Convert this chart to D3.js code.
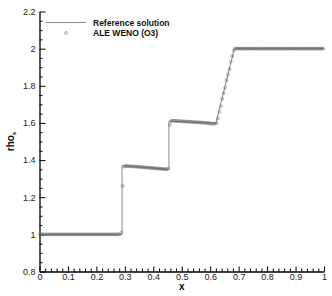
<!DOCTYPE html>
<html>
<head>
<meta charset="utf-8">
<script src="https://cdn.jsdelivr.net/npm/d3@7/dist/d3.min.js"></script>
<style>
  html, body { margin: 0; padding: 0; background: #fff; }
  svg { display: block; font-family: "Liberation Sans", Arial, Helvetica, sans-serif; }
</style>
</head>
<body>
<svg id="chart" width="332" height="296"></svg>
<script>
// Reference solution, as the breakpoints of a polyline
const refX = [0, 0.29, 0.29, 0.455, 0.455, 0.62, 0.685, 1];
const refY = [1, 1, 1.37, 1.35, 1.61, 1.598, 2.0, 2.0];

// ALE WENO (O3), one value per cell, 200 cells on [0, 1]
const cellStart = 0.0025;
const cellWidth = 0.005;
const wenoY = [
  1, 1, 1, 1, 1, 1, 1, 1, 1, 1,
  1, 1, 1, 1, 1, 1, 1, 1, 1, 1,
  1, 1, 1, 1, 1, 1, 1, 1, 1, 1,
  1, 1, 1, 1, 1, 1, 1, 1, 1, 1,
  1, 1, 1, 1, 1, 1, 1, 1, 1, 1,
  1, 1, 1, 1, 1, 1, 1, 1.01, 1.26, 1.365,
  1.368, 1.368, 1.367, 1.367, 1.366, 1.366, 1.365, 1.365, 1.364, 1.364,
  1.363, 1.362, 1.362, 1.361, 1.36, 1.36, 1.359, 1.358, 1.358, 1.357,
  1.356, 1.356, 1.355, 1.354, 1.354, 1.353, 1.352, 1.352, 1.351, 1.35,
  1.355, 1.59, 1.61, 1.612, 1.612, 1.611, 1.611, 1.61, 1.61, 1.609,
  1.609, 1.608, 1.608, 1.607, 1.607, 1.606, 1.606, 1.605, 1.605, 1.604,
  1.604, 1.603, 1.603, 1.602, 1.602, 1.601, 1.6, 1.6, 1.599, 1.598,
  1.597, 1.596, 1.596, 1.596, 1.6, 1.625, 1.66, 1.69, 1.73, 1.76,
  1.79, 1.83, 1.86, 1.89, 1.93, 1.96, 1.99, 2.0, 2.0, 2.0,
  2, 2, 2, 2, 2, 2, 2, 2, 2, 2,
  2, 2, 2, 2, 2, 2, 2, 2, 2, 2,
  2, 2, 2, 2, 2, 2, 2, 2, 2, 2,
  2, 2, 2, 2, 2, 2, 2, 2, 2, 2,
  2, 2, 2, 2, 2, 2, 2, 2, 2, 2,
  2, 2, 2, 2, 2, 2, 2, 2, 2, 2
];

const xMajor = [0, 0.1, 0.2, 0.3, 0.4, 0.5, 0.6, 0.7, 0.8, 0.9, 1];
const yMajor = [0.8, 1, 1.2, 1.4, 1.6, 1.8, 2, 2.2];
const seriesNames = ['Reference solution', 'ALE WENO (O3)'];

const svg = d3.select('#chart');
const x = d3.scaleLinear().domain([0, 1]).range([39.5, 324]);
const y = d3.scaleLinear().domain([0.8, 2.2]).range([271.5, 11.5]);

// minor ticks sit between the majors
const xMinor = d3.range(0, 1.0001, 0.02).filter(v => !xMajor.some(m => Math.abs(m - v) < 1e-6));
const yMinor = d3.range(0.8, 2.2001, 0.05).filter(v => !yMajor.some(m => Math.abs(m - v) < 1e-6));

const fmt = v => (Math.round(v * 10) / 10).toString();

function styleAxis(g) {
  g.selectAll('path').attr('stroke', '#000').attr('stroke-width', 1.3);
  g.selectAll('line').attr('stroke', '#000').attr('stroke-width', 1);
  g.selectAll('text').attr('font-size', 9).attr('fill', '#222')
    .attr('font-family', '"Liberation Sans", Arial, sans-serif');
}

svg.append('g')
  .attr('transform', `translate(0,${y(0.8)})`)
  .call(d3.axisBottom(x).tickValues(xMinor).tickSize(-3).tickFormat(''))
  .call(g => g.select('.domain').remove())
  .call(styleAxis);
svg.append('g')
  .attr('transform', `translate(${x(0)},0)`)
  .call(d3.axisLeft(y).tickValues(yMinor).tickSize(-3).tickFormat(''))
  .call(g => g.select('.domain').remove())
  .call(styleAxis);

svg.append('g')
  .attr('transform', `translate(0,${y(0.8)})`)
  .call(d3.axisBottom(x).tickValues(xMajor).tickSizeInner(-5).tickSizeOuter(0).tickPadding(2.5).tickFormat(fmt))
  .call(styleAxis);
svg.append('g')
  .attr('transform', `translate(${x(0)},0)`)
  .call(d3.axisLeft(y).tickValues(yMajor).tickSizeInner(-6).tickSizeOuter(0).tickPadding(4).tickFormat(fmt))
  .call(styleAxis);

// reference line
const refPts = refX.map((v, i) => [v, refY[i]]);
svg.append('path')
  .datum(refPts)
  .attr('fill', 'none')
  .attr('stroke', '#8a8a8a')
  .attr('stroke-width', 1)
  .attr('d', d3.line().x(d => x(d[0])).y(d => y(d[1])));

// scheme points
svg.append('g')
  .selectAll('circle')
  .data(wenoY)
  .join('circle')
  .attr('cx', (d, i) => x(cellStart + i * cellWidth))
  .attr('cy', d => y(d))
  .attr('r', 1.4)
  .attr('fill', 'none')
  .attr('stroke', '#555')
  .attr('stroke-width', 0.5);

// legend
const legend = svg.append('g');
legend.append('line')
  .attr('x1', 46).attr('x2', 86).attr('y1', 22.5).attr('y2', 22.5)
  .attr('stroke', '#8a8a8a').attr('stroke-width', 1);
legend.append('circle')
  .attr('cx', 66).attr('cy', 33).attr('r', 1.4)
  .attr('fill', 'none').attr('stroke', '#555').attr('stroke-width', 0.5);
legend.selectAll('text')
  .data(seriesNames)
  .join('text')
  .attr('x', 93)
  .attr('y', (d, i) => 25.5 + i * 10.5)
  .attr('font-size', 8.5)
  .attr('font-weight', 'bold')
  .attr('fill', '#111')
  .text(d => d);

// axis titles
svg.append('text')
  .attr('x', x(0.5)).attr('y', 290)
  .attr('text-anchor', 'middle')
  .attr('font-size', 10).attr('font-weight', 'bold')
  .text('x');

const yTitle = svg.append('text')
  .attr('transform', `translate(14,${y(1.5)}) rotate(-90)`)
  .attr('text-anchor', 'middle')
  .attr('font-size', 10).attr('font-weight', 'bold');
yTitle.append('tspan').text('rho');
yTitle.append('tspan').attr('font-size', 6).attr('dy', 2).text('s');
</script>
</body>
</html>
